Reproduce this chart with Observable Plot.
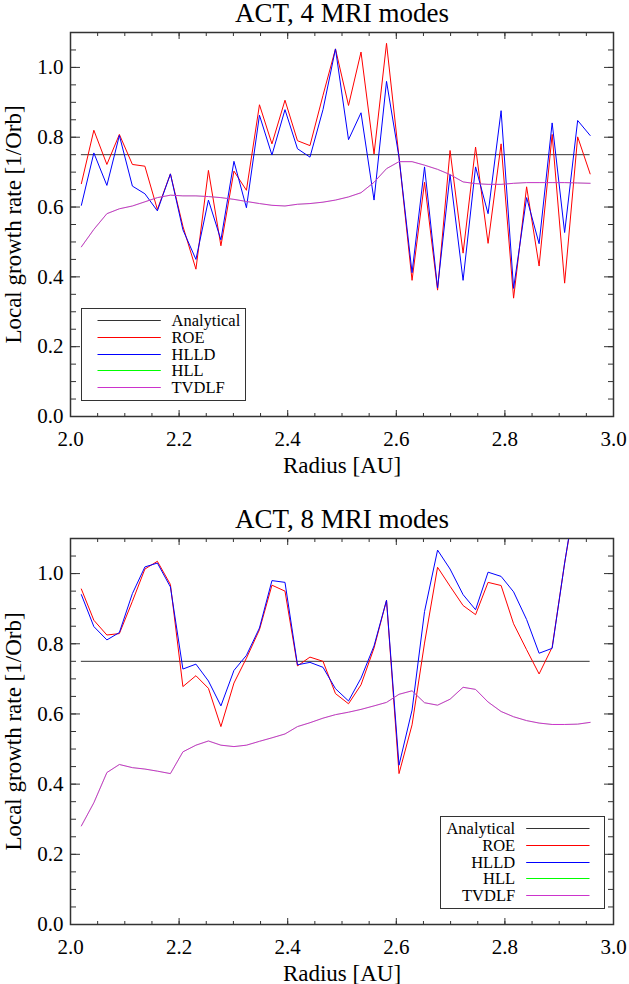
<!DOCTYPE html>
<html>
<head>
<meta charset="utf-8">
<script src="https://cdn.jsdelivr.net/npm/d3@7"></script>
<script src="https://cdn.jsdelivr.net/npm/@observablehq/plot@0.6"></script>
<style>
  body { margin: 0; background: #fff; }
  #chart svg { display: block; }
</style>
</head>
<body>
<div id="chart"></div>
<script>
var radius = [2.020, 2.043, 2.067, 2.090, 2.114, 2.137, 2.160, 2.184, 2.207, 2.231,
  2.254, 2.277, 2.301, 2.324, 2.348, 2.371, 2.395, 2.418, 2.441, 2.465,
  2.488, 2.512, 2.535, 2.559, 2.582, 2.605, 2.629, 2.652, 2.676, 2.699,
  2.723, 2.746, 2.769, 2.793, 2.816, 2.840, 2.863, 2.887, 2.910, 2.934, 2.957];

var analytical = 0.75;

// 4 MRI modes
var roe4 = [0.667, 0.820, 0.722, 0.808, 0.722, 0.717, 0.593, 0.695, 0.545, 0.422,
  0.705, 0.489, 0.703, 0.648, 0.893, 0.781, 0.906, 0.790, 0.776, 0.920,
  1.053, 0.891, 1.044, 0.752, 1.069, 0.743, 0.390, 0.671, 0.362, 0.762,
  0.468, 0.772, 0.496, 0.781, 0.339, 0.658, 0.431, 0.808, 0.382, 0.801, 0.695];
var hlld4 = [0.605, 0.755, 0.662, 0.805, 0.660, 0.638, 0.589, 0.695, 0.535, 0.450,
  0.620, 0.506, 0.731, 0.598, 0.863, 0.749, 0.879, 0.767, 0.743, 0.879,
  1.053, 0.793, 0.870, 0.620, 0.960, 0.743, 0.412, 0.715, 0.368, 0.693,
  0.390, 0.715, 0.581, 0.876, 0.367, 0.627, 0.495, 0.841, 0.527, 0.848, 0.805];
var tvdlf4 = [0.486, 0.536, 0.581, 0.595, 0.603, 0.615, 0.627, 0.634, 0.632, 0.632,
  0.630, 0.627, 0.622, 0.616, 0.610, 0.605, 0.603, 0.608, 0.610, 0.614,
  0.620, 0.629, 0.641, 0.671, 0.710, 0.730, 0.730, 0.720, 0.708, 0.693,
  0.672, 0.667, 0.665, 0.665, 0.668, 0.670, 0.670, 0.670, 0.670, 0.669, 0.668];
var hll4 = tvdlf4; // sits under TVDLF

// 8 MRI modes
var roe8 = [0.956, 0.867, 0.825, 0.829, 0.921, 1.013, 1.035, 0.969, 0.678, 0.709,
  0.673, 0.564, 0.688, 0.759, 0.840, 0.967, 0.950, 0.737, 0.762, 0.750,
  0.658, 0.629, 0.683, 0.788, 0.924, 0.430, 0.569, 0.802, 1.018, 0.964,
  0.909, 0.883, 0.975, 0.966, 0.857, 0.783, 0.714, 0.790, 1.030, 1.250, 1.300];
var hlld8 = [0.940, 0.849, 0.811, 0.832, 0.943, 1.019, 1.030, 0.962, 0.728, 0.742,
  0.694, 0.623, 0.724, 0.767, 0.845, 0.980, 0.975, 0.740, 0.747, 0.733,
  0.672, 0.637, 0.702, 0.794, 0.924, 0.454, 0.611, 0.892, 1.067, 1.013,
  0.940, 0.897, 1.004, 0.992, 0.948, 0.869, 0.773, 0.787, 1.030, 1.260, 1.310];
var tvdlf8 = [0.281, 0.347, 0.433, 0.456, 0.447, 0.443, 0.437, 0.430, 0.492, 0.511,
  0.523, 0.511, 0.507, 0.511, 0.522, 0.532, 0.543, 0.564, 0.575, 0.588,
  0.598, 0.605, 0.613, 0.623, 0.633, 0.656, 0.666, 0.632, 0.625, 0.642,
  0.676, 0.670, 0.634, 0.607, 0.592, 0.581, 0.574, 0.570, 0.570, 0.571, 0.576];
var hll8 = tvdlf8;

var series = ["Analytical", "ROE", "HLLD", "HLL", "TVDLF"];
var colors = ["#333333", "#ff0000", "#0000ff", "#00ff00", "#cc33cc"];

var xMajor = [2.0, 2.2, 2.4, 2.6, 2.8, 3.0];
var yMajor = [0.0, 0.2, 0.4, 0.6, 0.8, 1.0];
var xMinor = d3.ticks(2, 3, 20);
var yMinor = d3.ticks(0, 1.1, 22);

var FONT = "Liberation Serif";

function table(roe, hlld, hll, tvdlf) {
  return radius.map((r, i) => ({ r: r, ROE: roe[i], HLLD: hlld[i], HLL: hll[i], TVDLF: tvdlf[i] }));
}

function legend(plot, where) {
  var sx = plot.scale("x"), sy = plot.scale("y");
  var w = 164, h = 92, rowGap = 16.75;
  var left = Math.round(where == "left" ? sx.range[0] + 10.7 : sx.range[1] - 9 - w) + 0.5;
  var top = Math.round(sy.range[0] - 16 - h) + 0.5;
  var g = d3.select(plot).append("g").attr("font-family", FONT).attr("font-size", 16.5);
  g.append("rect").attr("x", left).attr("y", top).attr("width", w).attr("height", h)
    .attr("fill", "white").attr("stroke", "#333").attr("stroke-width", 1);
  series.forEach((s, i) => {
    var y = Math.round(top + 11.7 + i * rowGap) + 0.5;
    var lx0 = where == "left" ? left + 16 : left + 85.7;
    g.append("line").attr("x1", lx0).attr("x2", lx0 + 63.3).attr("y1", y).attr("y2", y)
      .attr("stroke", colors[i]).attr("stroke-width", 1);
    g.append("text").attr("x", where == "left" ? left + 90 : left + 74.7).attr("y", y)
      .attr("dy", "0.32em").attr("text-anchor", where == "left" ? "start" : "end")
      .attr("fill", "black").text(s);
  });
}

function panel(title, data, o) {
  var line = (key, extra) => Plot.line(data, Object.assign({
    x: "r", y: key, stroke: colors[series.indexOf(key)], strokeWidth: 1, clip: true
  }, extra));
  var plot = Plot.plot({
    width: 629,
    height: o.height,
    marginLeft: 70,
    marginRight: 16,
    marginTop: o.top,
    marginBottom: o.bottom,
    x: { domain: [2, 3] },
    y: { domain: [0, 1.1] },
    style: { fontFamily: FONT, background: "white", color: "black" },
    marks: [
      Plot.ruleY([analytical], { x1: radius[0], x2: radius[radius.length - 1], stroke: colors[0], strokeWidth: 1 }),
      line("ROE"),
      line("HLLD"),
      line("HLL", { strokeOpacity: 0.25 }),
      line("TVDLF"),
      Plot.frame({ stroke: "#333", strokeWidth: 1.5 }),
      // inward ticks on all four sides
      Plot.axisX({ anchor: "bottom", ticks: xMajor, tickSize: -6, fill: "none", stroke: "#333", label: null }),
      Plot.axisX({ anchor: "bottom", ticks: xMinor, tickSize: -3, fill: "none", stroke: "#333", label: null }),
      Plot.axisX({ anchor: "top", ticks: xMajor, tickSize: -6, fill: "none", stroke: "#333", label: null }),
      Plot.axisX({ anchor: "top", ticks: xMinor, tickSize: -3, fill: "none", stroke: "#333", label: null }),
      Plot.axisY({ anchor: "left", ticks: yMajor, tickSize: -10, fill: "none", stroke: "#333", label: null }),
      Plot.axisY({ anchor: "left", ticks: yMinor, tickSize: -6, fill: "none", stroke: "#333", label: null }),
      Plot.axisY({ anchor: "right", ticks: yMajor, tickSize: -10, fill: "none", stroke: "#333", label: null }),
      Plot.axisY({ anchor: "right", ticks: yMinor, tickSize: -6, fill: "none", stroke: "#333", label: null }),
      // tick labels
      Plot.axisX({ anchor: "bottom", ticks: xMajor, tickSize: 0, tickPadding: 15, tickFormat: d3.format(".1f"), fontSize: 21, label: null }),
      Plot.axisY({ anchor: "left", ticks: yMajor, tickSize: 0, tickPadding: 7, tickFormat: d3.format(".1f"), fontSize: 21, label: null }),
      // titles
      Plot.text([title], { frameAnchor: "top", dy: -11, lineAnchor: "bottom", fontSize: 27 }),
      Plot.text(["Radius [AU]"], { frameAnchor: "bottom", dy: 56, lineAnchor: "bottom", fontSize: 23 }),
      Plot.text(["Local growth rate [1/Orb]"], { frameAnchor: "left", rotate: -90, dx: -50, textAnchor: "middle", lineAnchor: "bottom", fontSize: 23 })
    ]
  });
  legend(plot, o.legend);
  return plot;
}

var top4 = panel("ACT, 4 MRI modes", table(roe4, hlld4, hll4, tvdlf4), { height: 480, top: 32, bottom: 64, legend: "left" });
var bot8 = panel("ACT, 8 MRI modes", table(roe8, hlld8, hll8, tvdlf8), { height: 504, top: 58, bottom: 60, legend: "right" });
document.getElementById("chart").append(top4, bot8);
</script>
</body>
</html>
